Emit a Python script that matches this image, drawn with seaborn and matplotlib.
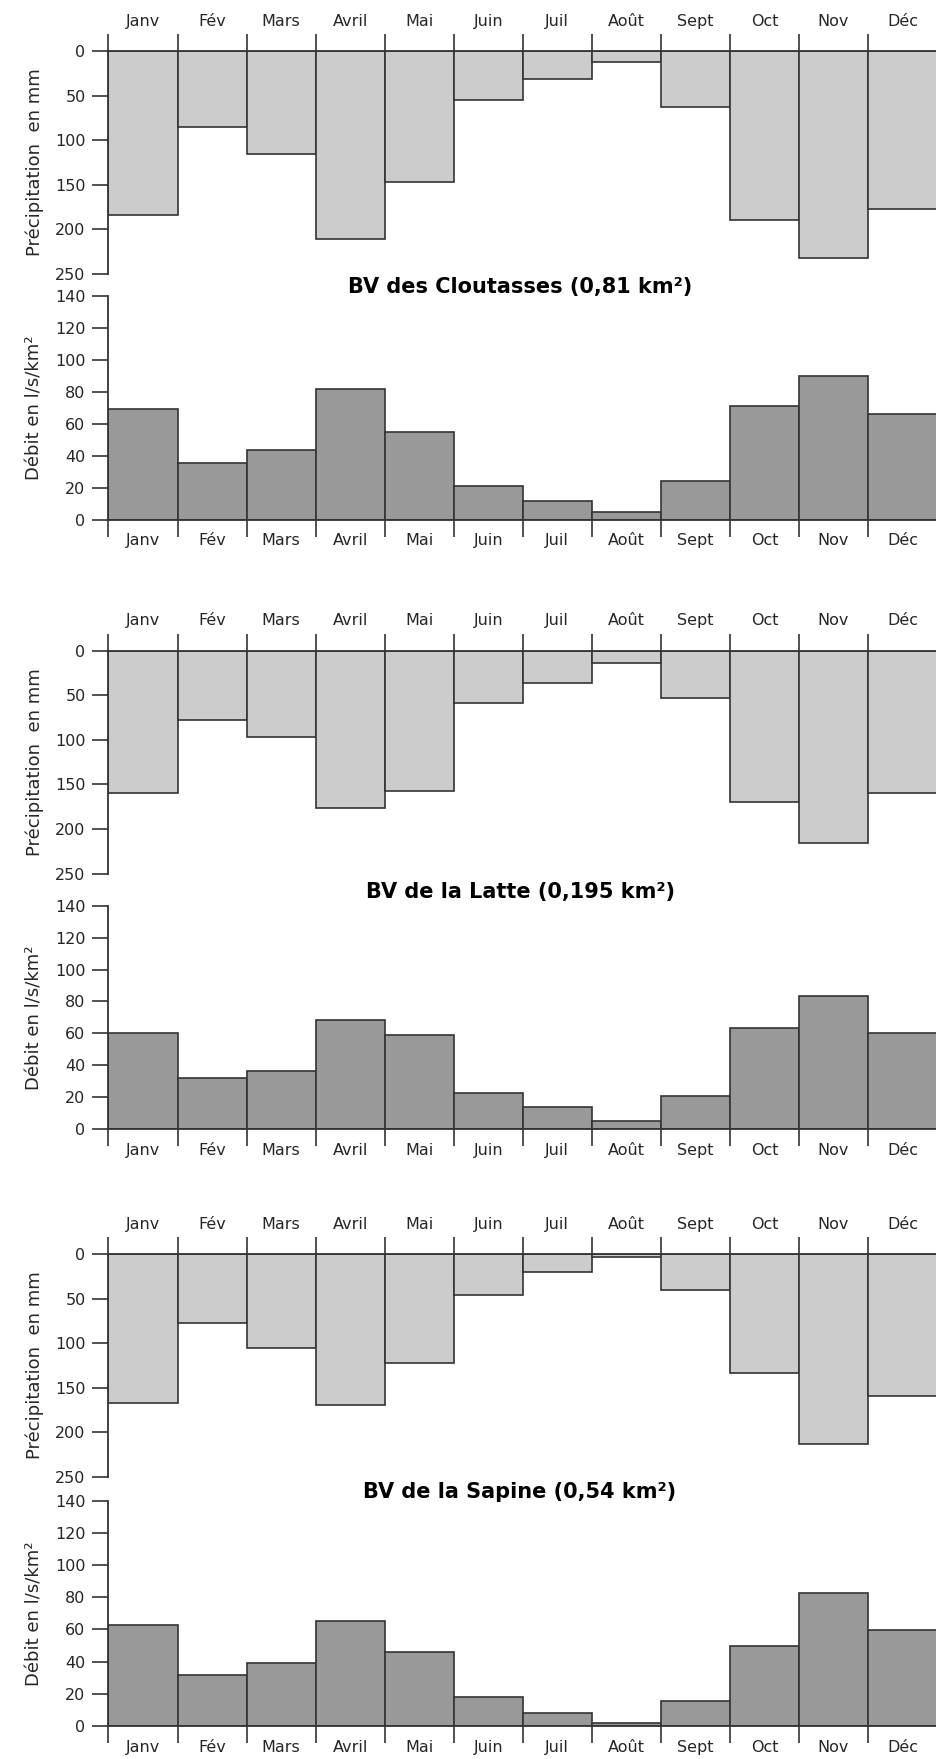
import matplotlib
matplotlib.use('Agg')
from matplotlib import pyplot as plt
import seaborn as sns

# Monthly values

months = ['Janv', 'Fév', 'Mars', 'Avril', 'Mai', 'Juin',
          'Juil', 'Août', 'Sept', 'Oct', 'Nov', 'Déc']

pluie_cloutasses = [184, 85, 116, 211, 147, 55, 31, 12, 63, 190, 232, 177]
debit_cloutasses = [69, 35.5, 43.5, 81.5, 54.7, 21.2, 11.4, 4.4, 24.3, 71, 90, 66]

pluie_latte = [160, 77.5, 96.5, 176.5, 157.5, 58.5, 36.5, 13.5, 53.5, 169.5, 216, 160]
debit_latte = [60.3, 32, 36.3, 68.4, 59.1, 22.8, 14, 5.2, 20.9, 63.6, 83.7, 60.1]

pluie_sapine = [167, 78, 105, 170, 122.7, 45.7, 20.2, 3.7, 40.4, 133.6, 213.7, 159.8]
debit_sapine = [62.5, 31.8, 39.3, 65.4, 46.1, 17.7, 7.7, 1.9, 15.7, 49.8, 82.5, 59.8]

titles = ['BV des Cloutasses (0,81 km²)',
          'BV de la Latte (0,195 km²)',
          'BV de la Sapine (0,54 km²)']

sns.set_style('ticks')
plt.rcParams['font.family'] = ['DejaVu Sans']

W, H = 937, 1759
fig = plt.figure(figsize=(W / 100, H / 100), dpi=100)

# pixel layout: (precip top, precip bottom, debit top, debit bottom, title y)
layout = [(51, 274, 296, 519.5, 287),
          (650.7, 873.5, 905.7, 1129.2, 892),
          (1254, 1476.7, 1501, 1725.7, 1492)]

left_px = 108.5
month_px = 69.66
x_right = -0.5 + (W - left_px) / month_px
edge = '#333333'
bounds = [i - 0.5 for i in range(13)]


def make_axes(top, bottom):
    return fig.add_axes([left_px / W, 1 - bottom / H, (W - left_px) / W, (bottom - top) / H])


def style_axes(ax, where):
    for s in ax.spines.values():
        s.set_color(edge)
        s.set_linewidth(1.3)
    ax.spines['right'].set_visible(False)
    ax.spines['bottom' if where == 'top' else 'top'].set_visible(False)
    ax.set_xlim(-0.5, x_right)
    ax.set_xticks(bounds, minor=True)
    on_top = where == 'top'
    ax.tick_params(axis='x', which='both', top=on_top, bottom=not on_top,
                   labeltop=on_top, labelbottom=not on_top)
    ax.tick_params(axis='x', which='major', length=0, labelsize=11.5,
                   pad=10 if where == 'bottom' else 16)
    ax.tick_params(axis='x', which='minor', length=12, width=1.2, color=edge, direction='out')
    ax.tick_params(axis='y', left=True, right=False, length=11.5, width=1.2, color=edge,
                   direction='out', labelsize=11.5, pad=5)
    ax.set_xlabel('')


for k, (pluie, debit) in enumerate([(pluie_cloutasses, debit_cloutasses),
                                     (pluie_latte, debit_latte),
                                     (pluie_sapine, debit_sapine)]):
    p_top, p_bot, d_top, d_bot, t_y = layout[k]

    # precipitation, hanging from the top
    ax1 = make_axes(p_top, p_bot)
    sns.barplot(x=months, y=pluie, ax=ax1, color='#cccccc', saturation=1,
                width=1, edgecolor=edge, linewidth=1.2, errorbar=None)
    ax1.set_ylim(250, 0)
    ax1.set_yticks([0, 50, 100, 150, 200, 250])
    ax1.xaxis.set_label_position('top')
    style_axes(ax1, 'top')
    ax1.set_ylabel('Précipitation  en mm', fontsize=13, labelpad=8)

    # discharge
    ax2 = make_axes(d_top, d_bot)
    sns.barplot(x=months, y=debit, ax=ax2, color='#999999', saturation=1,
                width=1, edgecolor=edge, linewidth=1.2, errorbar=None)
    ax2.set_ylim(0, 140)
    ax2.set_yticks(range(0, 141, 20))
    style_axes(ax2, 'bottom')
    ax2.set_ylabel('Débit en l/s/km²', fontsize=13, labelpad=8)

    fig.text(520 / W, 1 - t_y / H, titles[k], ha='center', va='center',
             fontsize=15, fontweight='bold', color='black')

fig.savefig('out.png', dpi=100)
